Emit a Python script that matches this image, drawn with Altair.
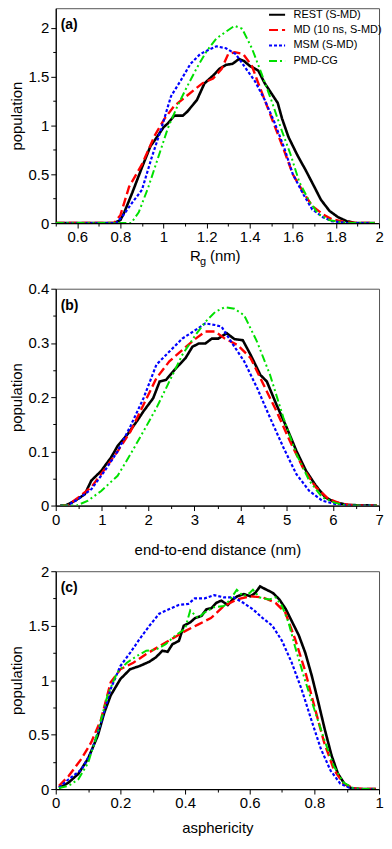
import altair as alt
import pandas as pd

SERIES = ["REST (S-MD)", "MD (10 ns, S-MD)", "MSM (S-MD)", "PMD-CG"]
COLORS = ["#000000", "#ff0000", "#0000ff", "#00e000"]
DASHES = [[1, 0], [9, 4], [3, 2], [8, 3, 2, 3, 2, 3]]
WIDTHS = [2.6, 2.0, 1.0, 2.0]
FONT = "Liberation Sans"

# ---------------- panel (a): radius of gyration ----------------
A_REST_X = [0.5, 0.77, 0.8, 0.818, 0.855, 0.9, 0.94, 0.96, 1.0, 1.02, 1.05, 1.09, 1.11, 1.155, 1.19, 1.23,
            1.26, 1.29, 1.32, 1.35, 1.373, 1.4, 1.44, 1.47, 1.5, 1.53, 1.55, 1.58, 1.62, 1.66, 1.7, 1.73,
            1.77, 1.81, 1.85, 1.89, 1.98]
A_REST_Y = [0, 0, 0.03, 0.11, 0.31, 0.57, 0.79, 0.85, 0.98, 1.02, 1.10, 1.10, 1.14, 1.26, 1.43, 1.51,
            1.58, 1.62, 1.63, 1.68, 1.66, 1.61, 1.56, 1.43, 1.33, 1.23, 1.07, 0.88, 0.70, 0.54, 0.37, 0.24,
            0.125, 0.06, 0.02, 0, 0]
A_MD_X = [0.5, 0.77, 0.8, 0.84, 0.9, 0.96, 1.005, 1.05, 1.095, 1.14, 1.18, 1.23, 1.27, 1.3, 1.33, 1.37,
          1.41, 1.44, 1.48, 1.52, 1.56, 1.6, 1.65, 1.69, 1.74, 1.78, 1.84, 1.9, 1.98]
A_MD_Y = [0, 0, 0.08, 0.37, 0.60, 0.90, 1.07, 1.20, 1.28, 1.36, 1.43, 1.48, 1.58, 1.73, 1.75, 1.73,
          1.61, 1.43, 1.20, 0.97, 0.74, 0.50, 0.31, 0.175, 0.09, 0.04, 0.01, 0, 0]
A_MSM_X = [0.5, 0.78, 0.81, 0.855, 0.9, 0.945, 0.99, 1.035, 1.08, 1.125, 1.17, 1.215, 1.245, 1.29, 1.335,
           1.38, 1.425, 1.47, 1.515, 1.56, 1.6, 1.65, 1.69, 1.74, 1.78, 1.85, 1.98]
A_MSM_Y = [0, 0, 0.07, 0.21, 0.34, 0.67, 0.97, 1.30, 1.46, 1.63, 1.73, 1.78, 1.81, 1.79, 1.73,
           1.59, 1.45, 1.26, 1.03, 0.77, 0.50, 0.29, 0.14, 0.06, 0.02, 0, 0]
A_PMD_X = [0.5, 0.85, 0.885, 0.93, 0.975, 1.02, 1.065, 1.11, 1.155, 1.2, 1.245, 1.29, 1.33, 1.365, 1.41,
           1.455, 1.5, 1.545, 1.59, 1.63, 1.68, 1.72, 1.77, 1.85, 1.98]
A_PMD_Y = [0, 0, 0.11, 0.37, 0.67, 0.97, 1.20, 1.40, 1.59, 1.76, 1.89, 1.96, 2.02, 1.99, 1.79,
           1.53, 1.26, 0.97, 0.70, 0.42, 0.21, 0.09, 0.03, 0, 0]

# ---------------- panel (b): end-to-end distance ----------------
B_REST_X = [0.1, 0.21, 0.42, 0.63, 0.77, 0.985, 1.2, 1.34, 1.55, 1.76, 1.9, 2.11, 2.25, 2.39, 2.6, 2.81,
            2.96, 3.1, 3.24, 3.38, 3.52, 3.7, 3.87, 4.05, 4.22, 4.43, 4.57, 4.78, 5.0, 5.21, 5.42, 5.63,
            5.84, 6.05, 6.33, 6.95]
B_REST_Y = [0, 0, 0.009, 0.021, 0.046, 0.064, 0.089, 0.11, 0.131, 0.156, 0.174, 0.198, 0.229, 0.232,
            0.253, 0.272, 0.293, 0.299, 0.299, 0.308, 0.308, 0.318, 0.307, 0.305, 0.278, 0.241, 0.229,
            0.186, 0.144, 0.101, 0.064, 0.037, 0.015, 0.006, 0.001, 0]
B_MD_X = [0.1, 0.25, 0.49, 0.77, 1.06, 1.34, 1.62, 1.9, 2.18, 2.46, 2.74, 3.03, 3.24, 3.45, 3.66, 3.94,
          4.22, 4.5, 4.78, 5.07, 5.35, 5.63, 5.91, 6.19, 6.5, 6.95]
B_MD_Y = [0, 0, 0.015, 0.034, 0.067, 0.10, 0.137, 0.186, 0.235, 0.266, 0.287, 0.308, 0.321, 0.321,
          0.308, 0.296, 0.272, 0.223, 0.174, 0.119, 0.07, 0.034, 0.012, 0.003, 0, 0]
B_MSM_X = [0.1, 0.25, 0.49, 0.77, 1.06, 1.34, 1.62, 1.9, 2.18, 2.46, 2.74, 3.03, 3.24, 3.45, 3.59, 3.8,
           4.08, 4.36, 4.64, 4.93, 5.21, 5.49, 5.77, 6.05, 6.4, 6.95]
B_MSM_Y = [0, 0, 0.012, 0.03, 0.064, 0.10, 0.147, 0.198, 0.26, 0.284, 0.308, 0.324, 0.336, 0.333,
           0.33, 0.302, 0.266, 0.217, 0.162, 0.107, 0.058, 0.027, 0.009, 0.003, 0, 0]
B_PMD_X = [0.1, 0.45, 0.7, 0.985, 1.34, 1.62, 1.9, 2.18, 2.46, 2.74, 3.03, 3.24, 3.45, 3.66, 3.87, 4.08,
           4.36, 4.64, 4.93, 5.21, 5.49, 5.77, 6.05, 6.3, 6.95]
B_PMD_Y = [0, 0, 0.009, 0.027, 0.055, 0.095, 0.137, 0.18, 0.229, 0.278, 0.315, 0.339, 0.357, 0.366,
           0.363, 0.351, 0.302, 0.241, 0.162, 0.095, 0.046, 0.015, 0.005, 0, 0]

# ---------------- panel (c): asphericity ----------------
C_REST_X = [0.01, 0.04, 0.07, 0.10, 0.13, 0.15, 0.17, 0.20, 0.23, 0.26, 0.29, 0.31, 0.33, 0.346, 0.361,
            0.381, 0.396, 0.416, 0.431, 0.451, 0.466, 0.481, 0.497, 0.512, 0.532, 0.547, 0.562, 0.582,
            0.602, 0.617, 0.632, 0.652, 0.672, 0.692, 0.712, 0.732, 0.752, 0.772, 0.792, 0.812, 0.832,
            0.853, 0.873, 0.893, 0.913, 0.93, 0.99]
C_REST_Y = [0.01, 0.06, 0.14, 0.28, 0.49, 0.70, 0.86, 1.01, 1.10, 1.13, 1.17, 1.21, 1.27, 1.26, 1.33,
            1.36, 1.50, 1.53, 1.57, 1.59, 1.65, 1.66, 1.71, 1.73, 1.69, 1.74, 1.77, 1.79,
            1.77, 1.80, 1.86, 1.83, 1.80, 1.74, 1.65, 1.53, 1.41, 1.25, 1.04, 0.80, 0.55,
            0.31, 0.14, 0.05, 0.01, 0, 0]
C_MD_X = [0.01, 0.04, 0.08, 0.11, 0.14, 0.17, 0.20, 0.24, 0.28, 0.32, 0.36, 0.40, 0.44, 0.48, 0.52,
          0.56, 0.60, 0.64, 0.68, 0.71, 0.74, 0.77, 0.80, 0.83, 0.86, 0.89, 0.92, 0.95, 0.99]
C_MD_Y = [0.03, 0.12, 0.28, 0.43, 0.64, 0.98, 1.10, 1.16, 1.24, 1.31, 1.38, 1.45, 1.51, 1.57, 1.68,
          1.74, 1.77, 1.76, 1.71, 1.62, 1.38, 1.10, 0.76, 0.43, 0.18, 0.05, 0.01, 0, 0]
C_MSM_X = [0.01, 0.04, 0.08, 0.11, 0.14, 0.17, 0.20, 0.23, 0.26, 0.29, 0.32, 0.35, 0.38, 0.41, 0.43,
           0.46, 0.49, 0.52, 0.55, 0.58, 0.61, 0.64, 0.67, 0.70, 0.73, 0.76, 0.79, 0.82, 0.85, 0.88,
           0.91, 0.94, 0.99]
C_MSM_Y = [0.015, 0.09, 0.18, 0.34, 0.61, 0.92, 1.13, 1.25, 1.38, 1.50, 1.61, 1.65, 1.69, 1.70, 1.75,
           1.75, 1.78, 1.76, 1.76, 1.71, 1.65, 1.57, 1.50, 1.36, 1.16, 0.92, 0.64, 0.37, 0.17, 0.05,
           0.01, 0, 0]
C_PMD_X = [0.01, 0.04, 0.07, 0.10, 0.13, 0.16, 0.19, 0.22, 0.25, 0.28, 0.31, 0.34, 0.37, 0.40, 0.416,
           0.44, 0.46, 0.49, 0.52, 0.54, 0.56, 0.58, 0.60, 0.61, 0.63, 0.66, 0.68, 0.70, 0.72, 0.74,
           0.77, 0.80, 0.83, 0.86, 0.89, 0.92, 0.95, 0.99]
C_PMD_Y = [0.01, 0.03, 0.09, 0.24, 0.52, 0.86, 1.07, 1.16, 1.22, 1.27, 1.28, 1.33, 1.41, 1.47, 1.64,
           1.57, 1.62, 1.67, 1.68, 1.74, 1.83, 1.77, 1.80, 1.83, 1.76, 1.74, 1.76, 1.68, 1.53, 1.31,
           1.01, 0.73, 0.46, 0.21, 0.06, 0.01, 0, 0]

# axis ticks (every tick position; labels shown on the major ones)
A_XTICKS = [0.5, 0.6, 0.7, 0.8, 0.9, 1.0, 1.1, 1.2, 1.3, 1.4, 1.5, 1.6, 1.7, 1.8, 1.9, 2.0]
A_YTICKS = [0, 0.25, 0.5, 0.75, 1.0, 1.25, 1.5, 1.75, 2.0]
B_XTICKS = [0, 0.5, 1, 1.5, 2, 2.5, 3, 3.5, 4, 4.5, 5, 5.5, 6, 6.5, 7]
B_YTICKS = [0, 0.05, 0.1, 0.15, 0.2, 0.25, 0.3, 0.35, 0.4]
C_XTICKS = [0, 0.1, 0.2, 0.3, 0.4, 0.5, 0.6, 0.7, 0.8, 0.9, 1.0]
C_YTICKS = [0, 0.25, 0.5, 0.75, 1.0, 1.25, 1.5, 1.75, 2.0]

W = 325


def frame(xs_ys):
    rows = []
    for name, (xs, ys) in zip(SERIES, xs_ys):
        for i, (x, y) in enumerate(zip(xs, ys)):
            rows.append({"series": name, "x": x, "y": y, "i": i})
    return pd.DataFrame(rows)


def major(step):
    k = 1.0 / step
    return f"abs(datum.value*{k} - round(datum.value*{k})) < 1e-6"


def axis(values, step, title, title_pad):
    test = major(step)
    return alt.Axis(
        values=values,
        title=title,
        labelExpr=f"({test}) ? format(datum.value, '~g') : ''",
        tickSize={"condition": {"test": test, "value": 5}, "value": 3},
        grid=False,
        domainColor="#000000",
        domainWidth=1.2,
        tickColor="#000000",
        tickWidth=1,
        labelFont=FONT,
        labelFontSize=15,
        labelColor="#000000",
        labelPadding=2,
        labelFlush=False,
        labelOverlap=False,
        titleFont=FONT,
        titleFontSize=15,
        titleFontWeight="normal",
        titleColor="#000000",
        titlePadding=title_pad,
    )


def panel(df, xdom, ydom, xticks, xstep, yticks, ystep, xtitle, xpad, tag, height, legend):
    if legend:
        leg = alt.Legend(
            orient="none", legendX=213, legendY=-3, title=None, padding=0,
            symbolType="stroke", symbolSize=260, symbolStrokeWidth=2, labelOffset=7,
            labelFont=FONT, labelFontSize=11, labelColor="#000000", rowPadding=0.5,
        )
    else:
        leg = None
    lines = alt.Chart(df).mark_line(clip=True).encode(
        x=alt.X("x:Q", scale=alt.Scale(domain=xdom, nice=False, zero=False),
                axis=axis(xticks, xstep, xtitle, xpad)),
        y=alt.Y("y:Q", scale=alt.Scale(domain=ydom, nice=False),
                axis=axis(yticks, ystep, "population", 4)),
        order="i:Q",
        color=alt.Color("series:N", scale=alt.Scale(domain=SERIES, range=COLORS), legend=leg,
                        sort=SERIES),
        strokeDash=alt.StrokeDash("series:N", scale=alt.Scale(domain=SERIES, range=DASHES),
                                  legend=leg, sort=SERIES),
        strokeWidth=alt.StrokeWidth("series:N", scale=alt.Scale(domain=SERIES, range=WIDTHS),
                                    legend=None),
    )
    label = alt.Chart(pd.DataFrame({"t": [tag]})).mark_text(
        align="left", baseline="middle", font=FONT, fontSize=14, fontWeight="bold", color="#000000"
    ).encode(text="t:N", x=alt.value(5), y=alt.value(17))
    return alt.layer(lines, label).properties(width=W, height=height)


dfa = frame([(A_REST_X, A_REST_Y), (A_MD_X, A_MD_Y), (A_MSM_X, A_MSM_Y), (A_PMD_X, A_PMD_Y)])
dfb = frame([(B_REST_X, B_REST_Y), (B_MD_X, B_MD_Y), (B_MSM_X, B_MSM_Y), (B_PMD_X, B_PMD_Y)])
dfc = frame([(C_REST_X, C_REST_Y), (C_MD_X, C_MD_Y), (C_MSM_X, C_MSM_Y), (C_PMD_X, C_PMD_Y)])

HA = 216
pa = panel(dfa, [0.5, 2.0], [0, 2.2], A_XTICKS, 0.2, A_YTICKS, 0.5, None, 6, "(a)", HA, True)
# subscripted axis title R_g (nm)
rg_parts = [("R", 135, 38, 15), ("g", 145, 42, 11), ("(nm)", 155, 38, 15)]
rg_layers = []
for txt, xo, yo, fs in rg_parts:
    rg_layers.append(
        alt.Chart(pd.DataFrame({"t": [txt]})).mark_text(
            align="left", baseline="alphabetic", font=FONT, fontSize=fs, color="#000000"
        ).encode(text="t:N", x=alt.value(xo), y=alt.value(HA + yo))
    )
pa = alt.layer(pa, *rg_layers)

pb = panel(dfb, [0, 7], [0, 0.4], B_XTICKS, 1, B_YTICKS, 0.1, "end-to-end distance (nm)", 15, "(b)", 218, False)
pc = panel(dfc, [0, 1], [0, 2], C_XTICKS, 0.2, C_YTICKS, 0.5, "asphericity", 10, "(c)", 219, False)

chart = alt.vconcat(pa, pb, pc, spacing=66, bounds="flush").resolve_legend(
    color="independent", strokeDash="independent"
).configure(
    padding={"left": 0, "top": -6, "right": 0, "bottom": 0}, background="#ffffff"
).configure_view(stroke="#555555", strokeWidth=1)

chart.save("out.html", embed_options={"renderer": "svg", "actions": False})
